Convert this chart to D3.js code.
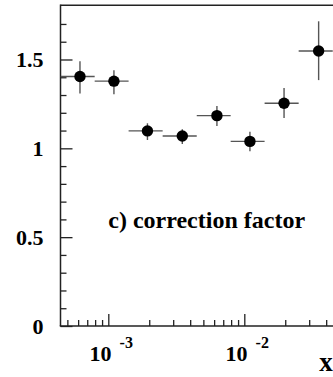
<!DOCTYPE html>
<html>
<head>
<meta charset="utf-8">
<script src="https://cdn.jsdelivr.net/npm/d3@7"></script>
<style>
  html, body { margin: 0; padding: 0; background: #fff; }
  svg { display: block; }
</style>
</head>
<body>
<script>
// ---- data ----
const binLow  = [4.47e-4, 7.94e-4, 1.41e-3, 2.51e-3, 4.47e-3, 7.94e-3, 1.41e-2, 2.51e-2];
const binHigh = [7.94e-4, 1.41e-3, 2.51e-3, 4.47e-3, 7.94e-3, 1.41e-2, 2.51e-2, 4.47e-2];
const xCenter = [6.19e-4, 1.10e-3, 1.94e-3, 3.50e-3, 6.29e-3, 1.10e-2, 1.96e-2, 3.52e-2];
const values  = [1.404, 1.378, 1.098, 1.069, 1.184, 1.039, 1.254, 1.548];
const errLow  = [1.309, 1.305, 1.047, 1.024, 1.125, 0.984, 1.170, 1.384];
const errHigh = [1.490, 1.440, 1.141, 1.108, 1.238, 1.093, 1.339, 1.715];
const yMajorTicks = [0, 0.5, 1, 1.5];
const yTickLabels = ["0", "0.5", "1", "1.5"];
const yMinorTicks = [0.1,0.2,0.3,0.4,0.6,0.7,0.8,0.9,1.1,1.2,1.3,1.4,1.6,1.7];
const xMajorTicks = [1e-3, 1e-2];
const xMajorExp = ["-3", "-2"];
const xMinorTicks = [5e-4,6e-4,7e-4,8e-4,9e-4,2e-3,3e-3,4e-3,5e-3,6e-3,7e-3,8e-3,9e-3,2e-2,3e-2,4e-2];
const annotation = "c) correction factor";
const xTitle = "x";

// ---- layout ----
const W = 333, H = 377;
const plotLeft = 60.5, plotTop = 5.3, plotBottom = 326;
const FONT = "Liberation Serif";
const x = d3.scaleLog().domain([Math.pow(10, -3.3515), Math.pow(10, -1.3)]).range([plotLeft, plotLeft + 136 * 2.0515]);
const y = d3.scaleLinear().domain([0, 1.805]).range([plotBottom, plotTop]);

const svg = d3.select("body").append("svg").attr("width", W).attr("height", H);

const axisColor = "#222";
svg.append("line").attr("x1", plotLeft).attr("x2", W + 5).attr("y1", plotTop).attr("y2", plotTop)
  .attr("stroke", axisColor).attr("stroke-width", 1.5);

function styleAxis(g) {
  g.select(".domain").remove();
  g.selectAll(".tick line").attr("stroke", axisColor).attr("stroke-width", 1.3);
}

svg.append("g").attr("transform", `translate(${plotLeft},0)`)
  .call(d3.axisRight(y).tickValues(yMinorTicks).tickSize(6).tickFormat(""))
  .call(styleAxis);
svg.append("g").attr("transform", `translate(${plotLeft},0)`)
  .call(d3.axisRight(y).tickValues(yMajorTicks).tickSize(12).tickFormat(""))
  .call(styleAxis);

svg.append("g").attr("transform", `translate(0,${plotBottom})`)
  .call(d3.axisTop(x).tickValues(xMinorTicks).tickSize(6).tickFormat(""))
  .call(styleAxis);
svg.append("g").attr("transform", `translate(0,${plotBottom})`)
  .call(d3.axisTop(x).tickValues(xMajorTicks).tickSize(12).tickFormat(""))
  .call(styleAxis);

svg.append("line").attr("x1", plotLeft).attr("x2", plotLeft).attr("y1", plotTop - 0.75).attr("y2", plotBottom)
  .attr("stroke", axisColor).attr("stroke-width", 1.5);
svg.append("line").attr("x1", plotLeft - 0.75).attr("x2", W + 5).attr("y1", plotBottom).attr("y2", plotBottom)
  .attr("stroke", axisColor).attr("stroke-width", 1.5);

function addText(xp, yp, size, str, anchor) {
  return svg.append("text").attr("x", xp).attr("y", yp)
    .attr("font-family", FONT).attr("font-weight", "bold").attr("fill", "#000")
    .attr("font-size", size).attr("text-anchor", anchor || "start").text(str);
}

yMajorTicks.forEach((t, i) => addText(43.5, y(t) + 7.5, 22, yTickLabels[i], "end"));

xMajorTicks.forEach((t, i) => {
  addText(x(t) + 3.3, 361, 22, "10", "end");
  addText(x(t) + 11.3, 348, 16, xMajorExp[i], "start");
});

addText(319.3, 371, 27, xTitle);
addText(108.3, 228.3, 24, annotation);

const idx = d3.range(values.length);
const errColor = "#555";
svg.append("g").selectAll("line").data(idx).enter().append("line")
  .attr("x1", i => x(binLow[i])).attr("x2", i => x(binHigh[i]))
  .attr("y1", i => y(values[i])).attr("y2", i => y(values[i]))
  .attr("stroke", errColor).attr("stroke-width", 1.4);
svg.append("g").selectAll("line").data(idx).enter().append("line")
  .attr("x1", i => x(xCenter[i])).attr("x2", i => x(xCenter[i]))
  .attr("y1", i => y(errLow[i])).attr("y2", i => y(errHigh[i]))
  .attr("stroke", errColor).attr("stroke-width", 1.4);
svg.append("g").selectAll("circle").data(idx).enter().append("circle")
  .attr("cx", i => x(xCenter[i])).attr("cy", i => y(values[i]))
  .attr("r", 5.7).attr("fill", "#000");
</script>
</body>
</html>
